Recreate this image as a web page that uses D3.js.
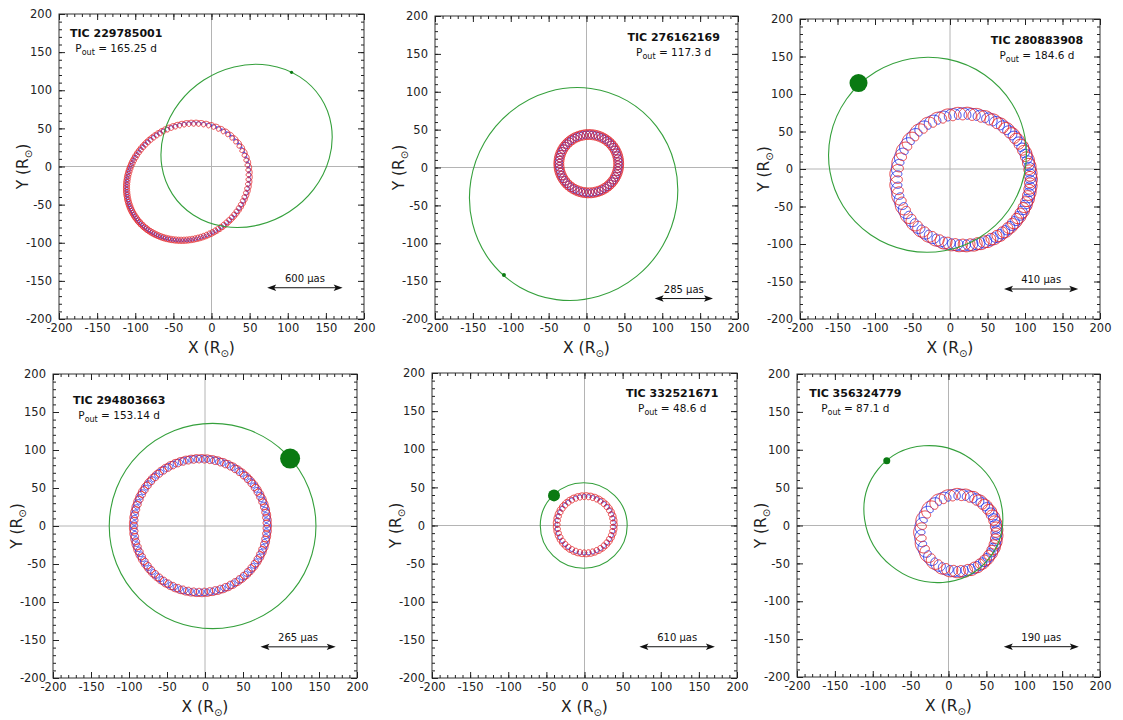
<!DOCTYPE html>
<html>
<head>
<meta charset="utf-8">
<script src="https://cdn.jsdelivr.net/npm/d3@7"></script>
<style>
body { margin: 0; background: #fff; }
svg { display: block; font-family: "DejaVu Sans", sans-serif; }
</style>
</head>
<body>
<svg id="chart" width="1123" height="720"></svg>
<script>
// values, one entry per target (R_sun units)
var tics = ["229785001", "276162169", "280883908", "294803663", "332521671", "356324779"];
var periods = ["165.25", "117.3", "184.6", "153.14", "48.6", "87.1"];
var scaleLabels = ["600", "285", "410", "265", "610", "190"];
// scale bar: x start, x end, y
var scaleBars = [[73, 172, -159], [90, 167, -173], [72, 171, -160], [73, 172, -159], [72, 171, -159], [73, 172, -160]];
// orbit of the third star: cx, cy, a, b, tilt (deg)
var outerOrbits = [[46, 27, 116, 103, 33], [-17, -35, 142, 136, 60], [-30, 19, 132, 130, 10], [10, 0, 136, 135, 0], [-1, 0, 57, 56, 0], [-20, 15, 94, 88, -39]];
// current place of the third star
var thirdStars = [[105, 123.5], [-109, -142], [-122, 114.6], [112, 88.7], [-40, 39.5], [-81.5, 85.5]];
var starSizes = [1.6, 2, 9, 10, 6, 3.5];
// path of the inner binary's centre of mass: cx, cy, a, b, tilt
var innerPaths = [[-31, -20, 83, 74, 33], [3, 5, 39.5, 38.5, 0], [18, -14, 90, 88, 0], [-6, 0.5, 88, 88, 0], [1, 1, 37.5, 37.5, 0], [13, -10, 51, 51, 0]];
// inner orbits per outer orbit, loop radius of each inner star
var loopCounts = [110, 60, 50, 78, 42, 30];
var redLoops = [4, 6.5, 8.5, 5.5, 4.5, 8];
var blueLoops = [2, 4.8, 7.5, 4.5, 2, 7];
// where the loops bunch up (deg) and how much
var bunchAngles = [190, 0, -25, 0, 0, -15];
var bunching = [0.4, 0, 0.3, 0, 0, 0.35];

// panel boxes in pixels: left, top, size
var panels = [[59, 14, 305], [435, 16, 303], [800, 19, 300], [53, 374, 304], [432, 373, 305], [797, 374, 303]];
var titleXs = [-125, 115, 116, -113, 115, -123];
var titleTops = [23, 25, 25, 30, 24, 23];

var green = "#35a03c", darkGreen = "#0a7a12";
var minor = d3.range(-200, 201, 10), major = d3.range(-200, 201, 50);
var svg = d3.select("#chart");

function tilted(c, t) {
  var th = c[4] * Math.PI / 180;
  var px = c[2] * Math.cos(t), py = c[3] * Math.sin(t);
  return [c[0] + px * Math.cos(th) - py * Math.sin(th), c[1] + px * Math.sin(th) + py * Math.cos(th)];
}

tics.forEach(function(tic, i) {
  var p = panels[i];
  var w = p[2];
  var x = d3.scaleLinear().domain([-200, 200]).range([0, w]);
  var y = d3.scaleLinear().domain([-200, 200]).range([w, 0]);
  var g = svg.append("g").attr("transform", "translate(" + p[0] + "," + p[1] + ")");

  // zero lines
  g.append("line").attr("x1", x(0)).attr("x2", x(0)).attr("y1", 0).attr("y2", w)
    .attr("stroke", "#b4b4b4").attr("stroke-width", 1);
  g.append("line").attr("x1", 0).attr("x2", w).attr("y1", y(0)).attr("y2", y(0))
    .attr("stroke", "#b4b4b4").attr("stroke-width", 1);

  // the two inner stars: loops round the moving centre of mass
  var n = loopCounts[i];
  var steps = n * 48;
  var red = [], blue = [];
  var ba = bunchAngles[i] * Math.PI / 180;
  for (var k = 0; k <= steps; k++) {
    var E = 2 * Math.PI * k / steps;
    var M = E + bunching[i] * Math.sin(E - ba);
    var ph = n * M;
    var cm = tilted(innerPaths[i], E);
    red.push([cm[0] + redLoops[i] * Math.cos(ph), cm[1] + redLoops[i] * Math.sin(ph)]);
    blue.push([cm[0] - blueLoops[i] * Math.cos(ph), cm[1] - blueLoops[i] * Math.sin(ph)]);
  }
  var line = d3.line().x(function(d) { return x(d[0]); }).y(function(d) { return y(d[1]); });
  g.append("path").attr("d", line(blue)).attr("fill", "none")
    .attr("stroke", "#1f2ee6").attr("stroke-width", 0.9);
  g.append("path").attr("d", line(red)).attr("fill", "none")
    .attr("stroke", "#e3262a").attr("stroke-width", 0.9);

  // third star orbit
  var o = outerOrbits[i];
  g.append("ellipse")
    .attr("cx", x(o[0])).attr("cy", y(o[1]))
    .attr("rx", x(o[2]) - x(0)).attr("ry", x(o[3]) - x(0))
    .attr("transform", "rotate(" + (-o[4]) + "," + x(o[0]) + "," + y(o[1]) + ")")
    .attr("fill", "none").attr("stroke", green).attr("stroke-width", 1.1);
  g.append("circle").attr("cx", x(thirdStars[i][0])).attr("cy", y(thirdStars[i][1]))
    .attr("r", starSizes[i]).attr("fill", darkGreen);

  // frame and ticks on all four sides
  g.append("rect").attr("width", w).attr("height", w)
    .attr("fill", "none").attr("stroke", "#333").attr("stroke-width", 1);
  function side(axis, tr, vals, size, labels, pad) {
    var a = g.append("g").attr("transform", tr)
      .call(axis.tickValues(vals).tickSizeInner(-size).tickSizeOuter(0).tickPadding(pad)
        .tickFormat(labels ? function(d) { return String(d); } : ""));
    a.select(".domain").remove();
    a.attr("font-family", "DejaVu Sans").attr("font-size", 11.5).style("color", "#222");
  }
  side(d3.axisBottom(x), "translate(0," + w + ")", minor, 3, false, 0);
  side(d3.axisTop(x), "translate(0,0)", minor, 3, false, 0);
  side(d3.axisLeft(y), "translate(0,0)", minor, 3, false, 0);
  side(d3.axisRight(y), "translate(" + w + ",0)", minor, 3, false, 0);
  side(d3.axisBottom(x), "translate(0," + w + ")", major, 6, true, 5);
  side(d3.axisTop(x), "translate(0,0)", major, 6, false, 0);
  side(d3.axisLeft(y), "translate(0,0)", major, 6, true, 7);
  side(d3.axisRight(y), "translate(" + w + ",0)", major, 6, false, 0);

  // axis titles
  var xt = g.append("text").attr("x", w / 2).attr("y", w + 34)
    .attr("text-anchor", "middle").attr("font-size", 15.5).attr("fill", "#222");
  xt.append("tspan").text("X (R");
  xt.append("tspan").attr("font-size", 10).attr("dy", 4).text("\u2299");
  xt.append("tspan").attr("dy", -4).text(")");
  var yt = g.append("text").attr("transform", "translate(-31," + (w / 2) + ") rotate(-90)")
    .attr("text-anchor", "middle").attr("font-size", 15.5).attr("fill", "#222");
  yt.append("tspan").text("Y (R");
  yt.append("tspan").attr("font-size", 10).attr("dy", 4).text("\u2299");
  yt.append("tspan").attr("dy", -4).text(")");

  // name and outer period
  g.append("text").attr("x", x(titleXs[i])).attr("y", titleTops[i])
    .attr("text-anchor", "middle").attr("font-size", 11).attr("font-weight", "bold")
    .attr("fill", "#111").text("TIC " + tic);
  var pt = g.append("text").attr("x", x(titleXs[i])).attr("y", titleTops[i] + 15)
    .attr("text-anchor", "middle").attr("font-size", 10.5).attr("fill", "#111");
  pt.append("tspan").text("P");
  pt.append("tspan").attr("font-size", 8).attr("dy", 2.5).text("out");
  pt.append("tspan").attr("dy", -2.5).text(" = " + periods[i] + " d");

  // angular scale bar
  var sb = scaleBars[i];
  var x1 = x(sb[0]), x2 = x(sb[1]), yb = y(sb[2]);
  g.append("line").attr("x1", x1 + 4).attr("x2", x2 - 4).attr("y1", yb).attr("y2", yb)
    .attr("stroke", "#111").attr("stroke-width", 1);
  g.append("path").attr("fill", "#111")
    .attr("d", "M" + x1 + "," + yb + "L" + (x1 + 9) + "," + (yb - 3.2) + "L" + (x1 + 7) + "," + yb + "L" + (x1 + 9) + "," + (yb + 3.2) + "Z");
  g.append("path").attr("fill", "#111")
    .attr("d", "M" + x2 + "," + yb + "L" + (x2 - 9) + "," + (yb - 3.2) + "L" + (x2 - 7) + "," + yb + "L" + (x2 - 9) + "," + (yb + 3.2) + "Z");
  g.append("text").attr("x", (x1 + x2) / 2).attr("y", yb - 6)
    .attr("text-anchor", "middle").attr("font-size", 10).attr("fill", "#111")
    .text(scaleLabels[i] + " \u03bcas");
});
</script>
</body>
</html>
